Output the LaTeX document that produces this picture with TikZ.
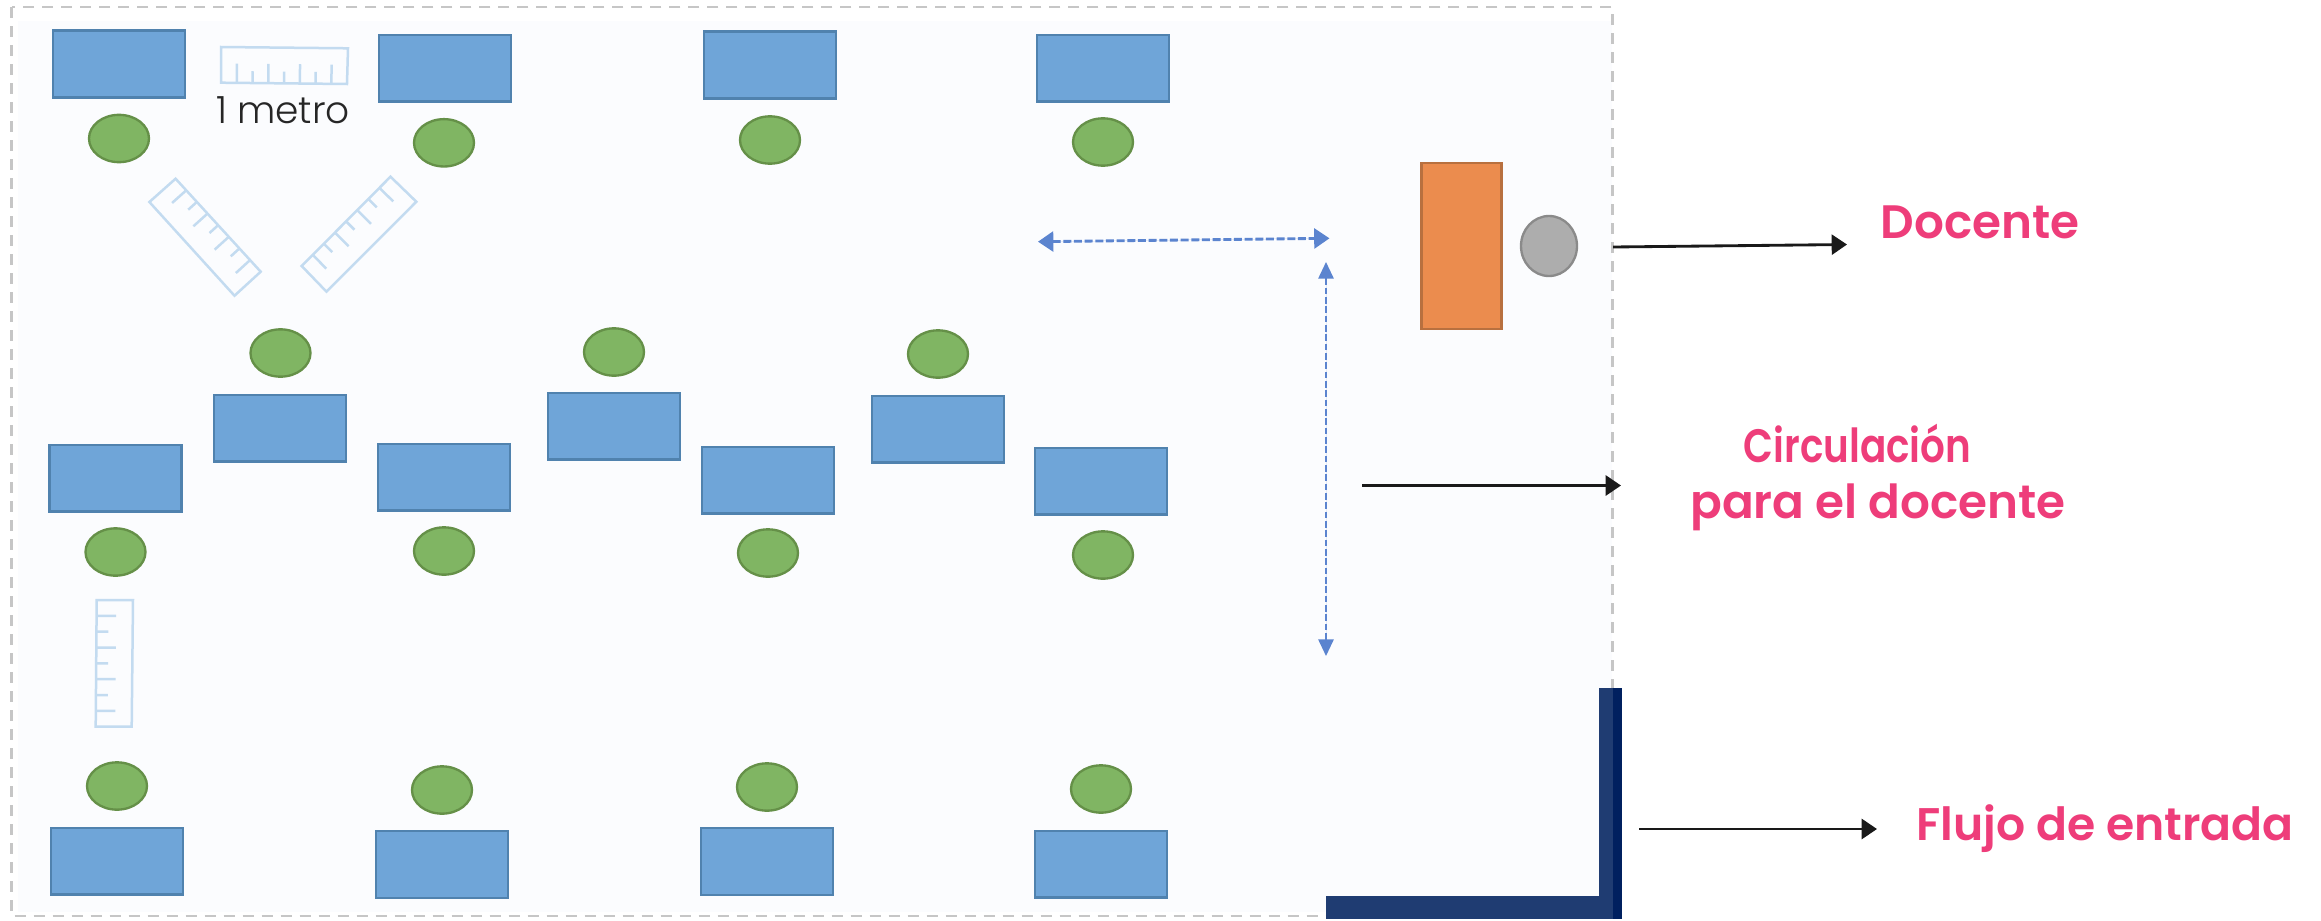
\documentclass[tikz,border=0pt]{standalone}
\usepackage{fontspec}
\setmainfont{Poppins}
\newfontfamily\labfont{Poppins SemiBold}
\newfontfamily\thinfont{Poppins Light}
\usetikzlibrary{arrows.meta,calc,shapes.geometric}
\definecolor{bgc}{HTML}{FBFCFE}
\definecolor{deskf}{HTML}{6FA5D8}
\definecolor{deskd}{HTML}{5082AE}
\definecolor{chairf}{HTML}{80B563}
\definecolor{chaird}{HTML}{659048}
\definecolor{rulerc}{HTML}{C3DBF0}
\definecolor{dashc}{HTML}{C6C6C6}
\definecolor{flowc}{HTML}{5B84CF}
\definecolor{pinkc}{HTML}{EE3D7A}
\definecolor{wallc}{HTML}{1F3C72}
\definecolor{walld}{HTML}{00205F}
\definecolor{orangef}{HTML}{EB8C4E}
\definecolor{oranged}{HTML}{B8703F}
\definecolor{grayf}{HTML}{ADADAD}
\definecolor{grayd}{HTML}{8A8A8A}
\tikzset{
  x=0.03cm,y=-0.03cm,
  desk/.style={draw=deskd,fill=deskf,line width=0.07cm,minimum width=3.96cm,minimum height=2.0cm,inner sep=0pt},
  chair/.style={ellipse,draw=chaird,fill=chairf,line width=0.07cm,minimum width=1.8cm,minimum height=1.42cm,inner sep=0pt},
  rulerline/.style={draw=rulerc,line width=0.075cm},
  room/.style={draw=dashc,line width=0.085cm,dash pattern=on 0.33cm off 0.24cm},
  flowh/.style={draw=flowc,fill=flowc,line width=0.085cm,dash pattern=on 0.24cm off 0.08cm,{Triangle[length=0.46cm,width=0.6cm]}-{Triangle[length=0.46cm,width=0.6cm]}},
  flowv/.style={draw=flowc,fill=flowc,line width=0.055cm,dash pattern=on 0.2cm off 0.08cm,{Triangle[length=0.5cm,width=0.46cm]}-{Triangle[length=0.5cm,width=0.46cm]}},
  pointer/.style={draw=black!90,line width=0.085cm,-{Triangle[length=0.46cm,width=0.6cm]}},
  lab/.style={text=pinkc,font=\labfont\fontsize{40}{48.6}\selectfont,align=center,inner sep=0pt},
}
% ruler: ticked edge A-B, opposite edge D-C
\newcommand{\myruler}[4]{%
  \draw[rulerline] #1 -- #2 -- #3 -- #4 -- cycle;
  \foreach \k/\t in {1/0.54,2/0.33,3/0.54,4/0.33,5/0.54,6/0.33,7/0.54}{%
    \draw[rulerline] ($#1!\k/8!#2$) -- ($($#1!\k/8!#2$)!\t!($#4!\k/8!#3$)$);
  }}
\begin{document}
\begin{tikzpicture}
\useasboundingbox (0,0) rectangle (2321,920);
\fill[white] (0,0) rectangle (2321,920);
\fill[bgc] (18,21) rectangle (1612,912);
\draw[room] (11.5,7) rectangle (1612.5,916);

% desks
\foreach \n/\x/\y in {d1/119/64,d2/445/68,d3/770/65,d4/1103/68,
  d5/280/428,d6/115.5/478,d7/444/477,d8/614/426,d9/768/480,d10/938/429,d11/1101/481,
  d12/117/861,d13/442/864.5,d14/767/861.5,d15/1101/864}
  \node[desk] (\n) at (\x,\y) {};
% chairs
\foreach \n/\x/\y in {c1/119/138.5,c2/444/142.8,c3/770/140,c4/1103/142,
  c5/280.5/353,c6/115.5/552,c7/444/551,c8/614/352,c9/768/553,c10/938/354,c11/1103/555,
  c12/117/786,c13/442/790,c14/767/787,c15/1101/789}
  \node[chair] (\n) at (\x,\y) {};

% rulers
\myruler{(221,82.7)}{(347,84)}{(348,48.3)}{(221,47)}
\myruler{(175.6,178.7)}{(260.7,271.7)}{(234.5,295.7)}{(149.4,202)}
\myruler{(390.5,176.7)}{(301.7,266)}{(326.5,291.7)}{(416.3,201.7)}
\myruler{(96.7,600)}{(95.7,726.7)}{(131.7,726.7)}{(133,600)}
\node[inner sep=0pt,text=black!85,font=\thinfont\fontsize{32}{36}\selectfont] (t0) at (283,110) {1 metro};

% teacher
\node[draw=oranged,fill=orangef,inner sep=0pt,minimum width=2.4cm,minimum height=4.98cm,line width=0.07cm] (tdesk) at (1461.5,246) {};
\node[ellipse,draw=grayd,fill=grayf,line width=0.07cm,inner sep=0pt,minimum width=1.68cm,minimum height=1.8cm] (tchair) at (1549,246) {};

% circulation arrows
\coordinate (fh1) at (1038,241.7);
\coordinate (fh2) at (1329.5,238.3);
\coordinate (fv1) at (1326,262);
\coordinate (fv2) at (1326,656);
\draw[flowh] (fh1) -- (fh2);
\draw[flowv] (fv1) -- (fv2);

% wall
\fill[wallc] (1326,896) rectangle (1622,919);
\fill[wallc] (1599,688) rectangle (1613,919);
\fill[walld] (1613,688) rectangle (1622,919);

% labels
\node[lab] (l1) at (1980,222) {Docente};
\node[lab] (l2) at (1878,477.5) {\hspace*{-35pt}\scalebox{0.83}[1]{Circulación}\\para el docente};
\node[lab,font=\labfont\fontsize{39}{46}\selectfont] (l3) at (2105,829) {Flujo de entrada};

% pointers
\coordinate (p1a) at (1613,247);
\coordinate (p1b) at (1847,244.5);
\coordinate (p2a) at (1362,485.5);
\coordinate (p2b) at (1621,485.5);
\coordinate (p3a) at (1639,829);
\coordinate (p3b) at (1877,829);
\draw[pointer] (p1a) -- (p1b);
\draw[pointer] (p2a) -- (p2b);
\draw[pointer] (p3a) -- (p3b);
\end{tikzpicture}
\end{document}
